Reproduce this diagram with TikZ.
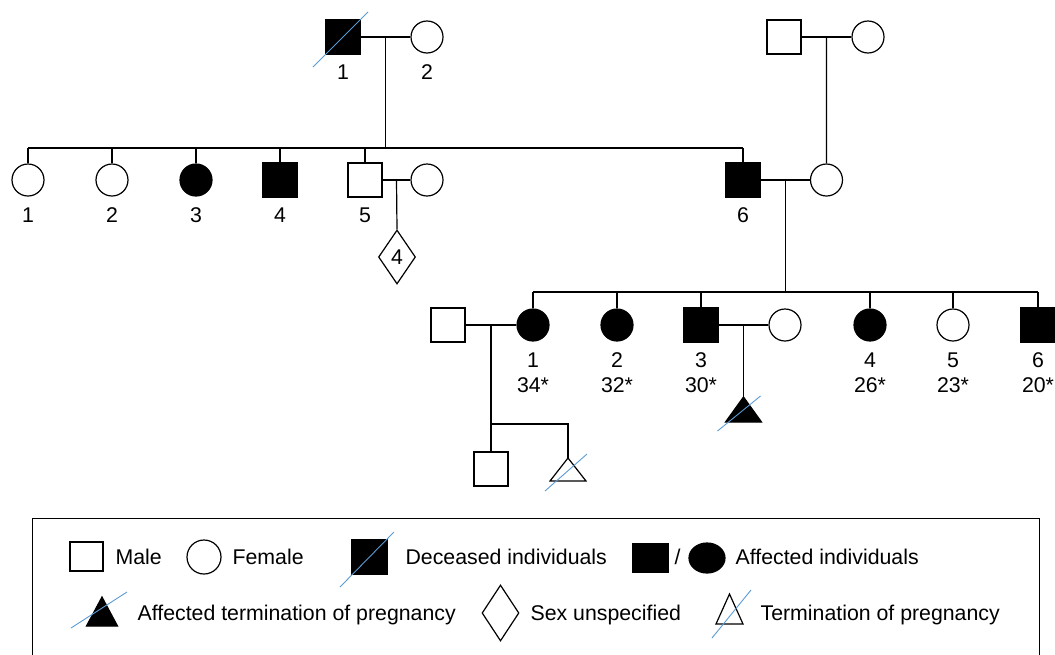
\documentclass[tikz,border=0pt]{standalone}
\usepackage{fontspec}
\setmainfont{Liberation Sans}
\usetikzlibrary{shapes.geometric,calc}
\definecolor{slashblue}{RGB}{91,155,213}
\begin{document}
\begin{tikzpicture}[x=1pt,y=-1pt,line width=1.2pt,
  male/.style={draw,rectangle,minimum width=34pt,minimum height=34pt,inner sep=0pt},
  female/.style={draw,circle,minimum size=32pt,inner sep=0pt},
  aff/.style={fill=black},
  lbl/.style={font=\fontsize{21.3}{25}\selectfont,inner sep=0pt},
  leg/.style={font=\fontsize{21.3}{25}\selectfont,inner sep=0pt,anchor=base west},
  slash/.style={draw=slashblue,line width=0.9pt},
  line/.style={draw,line width=1.2pt}]
\useasboundingbox (0,0) rectangle (1055,654);
\clip (0,0) rectangle (1055,654);
% ---------- Generation I ----------
\node[male,aff] (I1) at (343,37) {};
\node[female] (I2) at (427,37) {};
\node[male] (I3) at (784,37) {};
\node[female] (I4) at (868,37) {};
\draw[slash] ($(I1)+(-30,30)$) -- ($(I1)+(25,-25)$);
\node[lbl] (lI1) at (343,72) {1};
\node[lbl] (lI2) at (427,72) {2};
\draw[line] (I1.east) -- (I2.west);
\draw[line] (I3.east) -- (I4.west);
\coordinate (m1) at ($(I1.east)!0.5!(I2.west)$);
\coordinate (m2) at ($(I3.east)!0.5!(I4.west)$);
% ---------- Generation II ----------
\coordinate (s2) at (0,148);
\node[female] (II1) at (28,180) {};
\node[female] (II2) at (112,180) {};
\node[female,aff] (II3) at (196,180) {};
\node[male,aff] (II4) at (280,180) {};
\node[male] (II5) at (365,180) {};
\node[female] (II5s) at (427,180) {};
\node[male,aff] (II6) at (743,180) {};
\node[female] (II7) at (826.5,180) {};
\foreach \n/\t in {II1/1,II2/2,II3/3,II4/4,II5/5,II6/6}{
  \node[lbl] at ($(\n)+(0,35)$) {\t};
  \draw[line] (\n.north) -- (\n.north |- s2);
}
\draw[line] (II1.north |- s2) -- (II6.north |- s2);
\draw[line] (m1) -- (m1 |- s2);
\draw[line] (m2) -- (II7.north);
% II-5 couple
\draw[line] (II5.east) -- (II5s.west);
\coordinate (m3) at ($(II5.east)!0.5!(II5s.west)$);
\node[draw,diamond,line width=1.2pt,minimum width=37pt,minimum height=54pt,inner sep=0pt,lbl] (II5c) at (397,257) {4};
\draw[line] (m3) -- (II5c.north);
% II-6 couple
\draw[line] (II6.east) -- (II7.west);
\coordinate (m4) at ($(II6.east)!0.5!(II7.west)$);
% ---------- Generation III ----------
\coordinate (s3) at (0,292);
\node[male] (III1s) at (448,325) {};
\node[female,aff] (III1) at (533,325) {};
\node[female,aff] (III2) at (617,325) {};
\node[male,aff] (III3) at (701,325) {};
\node[female] (III3s) at (785,325) {};
\node[female,aff] (III4) at (870,325) {};
\node[female] (III5) at (953,325) {};
\node[male,aff] (III6) at (1038,325) {};
\foreach \n/\t/\a in {III1/1/34,III2/2/32,III3/3/30,III4/4/26,III5/5/23,III6/6/20}{
  \node[lbl] at ($(\n)+(0,35)$) {\t};
  \node[lbl] at ($(\n)+(0,60)$) {\a*};
  \draw[line] (\n.north) -- (\n.north |- s3);
}
\draw[line] (III1.north |- s3) -- (III6.north |- s3);
\draw[line] (m4) -- (m4 |- s3);
% III-1 couple
\draw[line] (III1s.east) -- (III1.west);
\coordinate (m5) at ($(III1s.east)!0.5!(III1.west)$);
\coordinate (s4) at (0,424);
\node[male] (IV1) at (m5 |- 0,469) {};
\coordinate (IV2) at (568,458);
\draw[line] (m5) -- (IV1.north);
\draw[line] (m5 |- s4) -- (IV2 |- s4) -- (IV2);
\draw[line] (IV2) -- ++(18,23) -- ++(-36,0) -- cycle;
\draw[slash] ($(IV2)+(-23,33)$) -- ($(IV2)+(19,-4)$);
% III-3 couple
\draw[line] (III3.east) -- (III3s.west);
\coordinate (m6) at ($(III3.east)!0.5!(III3s.west)$);
\coordinate (III3c) at (m6 |- 0,397);
\draw[line] (m6) -- (III3c);
\draw[line,fill=black] (III3c) -- ++(18,25) -- ++(-36,0) -- cycle;
\draw[slash] ($(III3c)+(-26,34)$) -- ($(III3c)+(17,-1)$);
% ---------- Legend ----------
\draw[line,line width=1pt] (32,660) -- (32,518) -- (1039,518) -- (1039,660);
\node[draw,rectangle,minimum width=33pt,minimum height=29pt,inner sep=0pt] (Lm) at (86.5,556.5) {};
\node[leg] (Lmt) at (115,564) {Male};
\node[female,minimum size=34pt] (Lf) at (204,557) {};
\node[leg] (Lft) at (232,564) {Female};
\node[draw,fill=black,rectangle,minimum width=35pt,minimum height=34pt,inner sep=0pt] (Ld) at (369.5,557) {};
\draw[slash] (340,587) -- (394,532);
\node[leg] (Ldt) at (405,564) {Deceased individuals};
\node[draw,fill=black,rectangle,minimum width=35pt,minimum height=28pt,inner sep=0pt] (La) at (650.5,558) {};
\node[leg] (Las) at (674,564) {/};
\node[draw,fill=black,ellipse,minimum width=36pt,minimum height=30pt,inner sep=0pt] (Lae) at (707,558) {};
\node[leg] (Lat) at (735,564) {Affected individuals};
\coordinate (Lt1) at (102,597);
\draw[line,fill=black] (Lt1) -- ++(15.5,29) -- ++(-31,0) -- cycle;
\draw[slash] (71,628) -- (127,592);
\node[leg] (Lt1t) at (137,620) {Affected termination of pregnancy};
\node[draw,diamond,line width=1.2pt,minimum width=37pt,minimum height=56pt,inner sep=0pt] (Ls) at (500.5,613) {};
\node[leg] (Lst) at (530,620) {Sex unspecified};
\coordinate (Lt2) at (729.5,594);
\draw[line] (Lt2) -- ++(13.5,30) -- ++(-27,0) -- cycle;
\draw[slash] (712,638) -- (751,590);
\node[leg] (Lt2t) at (760,620) {Termination of pregnancy};
\end{tikzpicture}
\end{document}
